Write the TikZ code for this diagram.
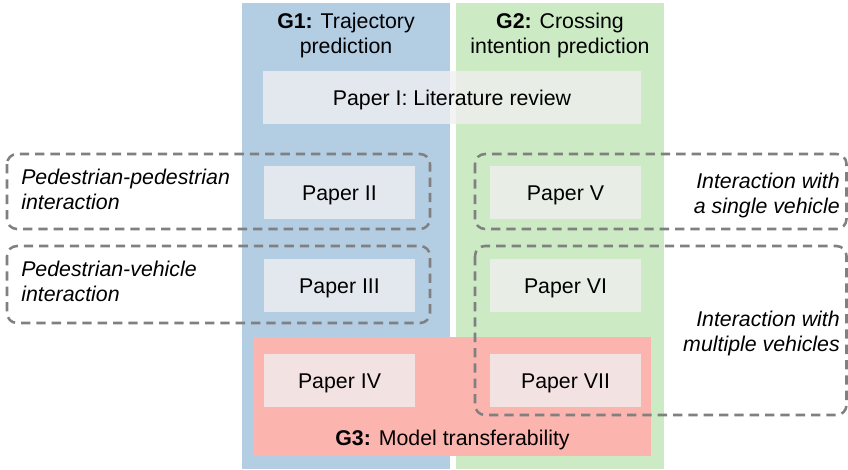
\documentclass[tikz,border=0pt]{standalone}
\usepackage{fontspec}
\setmainfont{Liberation Sans}
\definecolor{gblue}{RGB}{179,205,227}
\definecolor{ggreen}{RGB}{204,235,197}
\definecolor{gred}{RGB}{251,180,174}
\definecolor{pbox}{RGB}{240,240,240}
\definecolor{dgray}{RGB}{128,128,128}
\begin{document}
\begin{tikzpicture}[x=0.75pt,y=-0.75pt,
  every node/.style={inner sep=0pt,font=\fontsize{16}{18.75}\selectfont,text=black},
  oneline/.style={text height=11.46pt,text depth=0pt},
  paperbox/.style={oneline,fill=pbox,fill opacity=0.78,text opacity=1,draw=none,
    minimum width=113.25pt,minimum height=39.75pt},
  groupbox/.style={draw=dgray,line width=1.9pt,dash pattern=on 7pt off 4.5pt,rounded corners=7.5pt},
  tag/.style={font=\fontsize{16}{18.75}\selectfont\itshape}]
\useasboundingbox (0,0) rectangle (848,469);
% columns
\fill[gblue] (242,3) rectangle (450,469);
\fill[ggreen] (456,3) rectangle (664,469);
\fill[gred] (254,337) rectangle (651,456);
% titles
\node[align=center] (g1) at (346,35.5) {\textbf{G1:} Trajectory\\prediction};
\node[align=center] (g2) at (560,35.5) {\textbf{G2:} Crossing\\intention prediction};
\node[oneline] (g3) at (452.5,438) {\textbf{G3:} Model transferability};
% papers
\node[paperbox,minimum width=283.5pt] (p1) at (452,97.5) {Paper I: Literature review};
\node[paperbox] (p2) at (339.5,192.5) {Paper II};
\node[paperbox] (p3) at (339.5,285.5) {Paper III};
\node[paperbox] (p4) at (339.5,380.5) {Paper IV};
\node[paperbox] (p5) at (565.5,192.5) {Paper V};
\node[paperbox] (p6) at (565.5,285.5) {Paper VI};
\node[paperbox] (p7) at (565.5,380.5) {Paper VII};
% dashed groups
\draw[groupbox] (7,154) rectangle (430,229);
\draw[groupbox] (7,246) rectangle (430,323);
\draw[groupbox] (475,154) rectangle (846.5,229);
\draw[groupbox] (475,246) rectangle (846.5,415);
% group labels
\node[tag,align=left,anchor=west] (t1) at (21,189) {Pedestrian-pedestrian\\interaction};
\node[tag,align=left,anchor=west] (t2) at (21,281) {Pedestrian-vehicle\\interaction};
\node[tag,align=right,anchor=east] (t3) at (840,195) {Interaction with\\a single vehicle};
\node[tag,align=right,anchor=east] (t4) at (840,333) {Interaction with\\multiple vehicles};
\end{tikzpicture}
\end{document}
